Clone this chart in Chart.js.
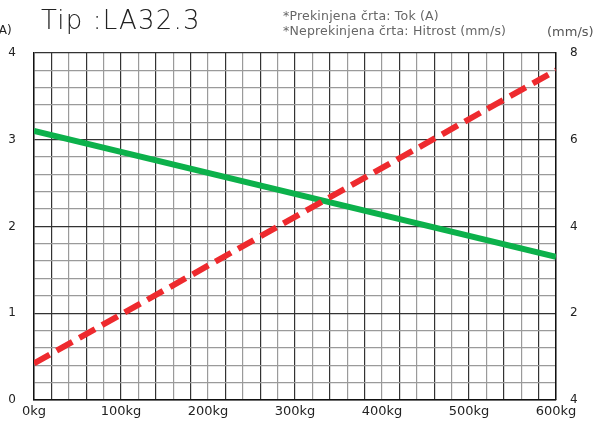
<!DOCTYPE html>
<html>
<head>
<meta charset="utf-8">
<script src="https://cdn.jsdelivr.net/npm/chart.js@4/dist/chart.umd.min.js"></script>
<style>
  html, body { margin: 0; padding: 0; background: #fff; }
  #wrap { position: relative; width: 599px; height: 425px; overflow: hidden; font-family: 'DejaVu Sans', sans-serif; }
  #chart { position: absolute; left: 0; top: 0; }
  .txt { position: absolute; white-space: nowrap; }
  #title { left: 41px; top: 5px; font-size: 26px; font-weight: 200; color: #222; letter-spacing: 1.2px; }
  #note { left: 283px; top: 8px; font-size: 12.5px; line-height: 15px; color: #666; letter-spacing: 0.2px; }
  #unitL { left: -6px; top: 23px; font-size: 12px; color: #222; }
  #unitR { left: 547px; top: 24px; font-size: 13px; color: #555; }
</style>
</head>
<body>
<div id="wrap">
  <canvas id="chart" width="599" height="425"></canvas>
  <div class="txt" id="title">Tip :LA32.3</div>
  <div class="txt" id="note">*Prekinjena črta: Tok (A)<br>*Neprekinjena črta: Hitrost (mm/s)</div>
  <div class="txt" id="unitL">(A)</div>
  <div class="txt" id="unitR">(mm/s)</div>
</div>
<script>
// ===== DATA =====
const loadKg    = [0, 600];
const currentA  = [0.42, 3.8];   // dashed red, left axis
const speedMms  = [6.2, 3.3];    // solid green, right axis
const rightTickLabels = ['4', '2', '4', '6', '8'];  // as printed, bottom -> top

const near = (v, step) => Math.abs(v / step - Math.round(v / step)) < 1e-6;

const ctx = document.getElementById('chart');
new Chart(ctx, {
  type: 'line',
  data: {
    datasets: [
      {
        label: 'Tok (A)',
        data: loadKg.map((x, i) => ({ x, y: currentA[i] })),
        yAxisID: 'y',
        borderColor: '#ee2a2e',
        borderWidth: 6,
        borderDash: [18, 8],
        borderCapStyle: 'butt',
        pointRadius: 0,
        tension: 0
      },
      {
        label: 'Hitrost (mm/s)',
        data: loadKg.map((x, i) => ({ x, y: speedMms[i] })),
        yAxisID: 'y1',
        borderColor: '#0cb14b',
        borderWidth: 6,
        pointRadius: 0,
        tension: 0
      }
    ]
  },
  options: {
    responsive: false,
    animation: false,
    layout: { padding: { top: 53, right: 0, bottom: 0, left: 0 } },
    plugins: { legend: { display: false }, tooltip: { enabled: false } },
    scales: {
      x: {
        type: 'linear', min: 0, max: 600,
        afterFit: s => { s.height = 24; },
        ticks: {
          stepSize: 20, autoSkip: false, maxRotation: 0, padding: 4,
          color: '#222', font: { family: 'DejaVu Sans', size: 13 },
          callback: v => near(v, 100) ? v + 'kg' : ''
        },
        grid: {
          drawTicks: false, lineWidth: 1.2,
          color: c => (c.index % 2 === 1 ? '#333' : '#9a9a9a')
        },
        border: { color: '#111', width: 1.5 }
      },
      y: {
        position: 'left', min: 0, max: 4,
        afterFit: s => { s.width = 34; },
        ticks: {
          stepSize: 0.2, autoSkip: false, padding: 18,
          color: '#222', font: { family: 'DejaVu Sans', size: 12 },
          callback: v => near(v, 1) ? Math.round(v) : ''
        },
        grid: {
          drawTicks: false, lineWidth: 1.2,
          color: c => (near(c.tick.value, 1) ? '#333' : '#9a9a9a')
        },
        border: { color: '#111', width: 1.5 }
      },
      y1: {
        position: 'right', min: 0, max: 8,
        afterFit: s => { s.width = 43; },
        ticks: {
          stepSize: 2, padding: 14,
          color: '#222', font: { family: 'DejaVu Sans', size: 12 },
          callback: (v, i) => rightTickLabels[i]
        },
        grid: { drawOnChartArea: false, drawTicks: false },
        border: { color: '#111', width: 1.5 }
      }
    }
  }
});
</script>
</body>
</html>
